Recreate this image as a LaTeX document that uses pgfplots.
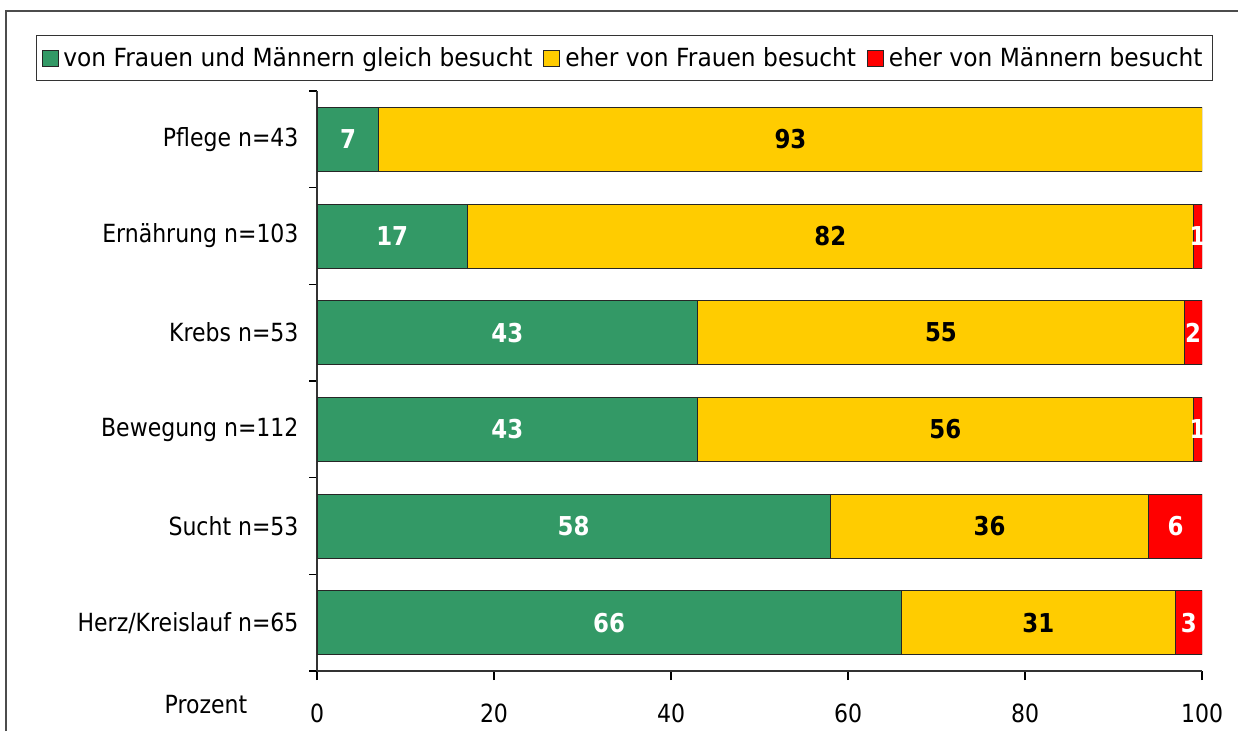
\documentclass[border=0pt]{standalone}
\usepackage{pgfplots}
\pgfplotsset{compat=1.18}
\usepackage{fontspec}
\setmainfont{DejaVu Sans}[FakeStretch=0.88]
\newfontfamily\legfont{DejaVu Sans}[FakeStretch=0.934]
\definecolor{cgreen}{RGB}{51,153,102}
\definecolor{cyellow}{RGB}{255,204,0}
\definecolor{cred}{RGB}{255,0,0}
\begin{document}
\begin{tikzpicture}[font=\fontsize{25pt}{30pt}\selectfont]
\useasboundingbox (0,0) rectangle (1238pt,-731pt);
\draw[line width=1.5pt, black!70] (6pt,-731pt) -- (6pt,-11pt) -- (1238pt,-11pt);
\begin{axis}[
  at={(317pt,-671pt)}, anchor=south west,
  width=885pt, height=580pt, scale only axis,
  xbar stacked, bar width=0.662,
  xmin=0, xmax=100, ymin=-0.5, ymax=5.5,
  axis x line*=bottom, axis y line*=left,
  axis line style={line width=1.2pt, black!80},
  /pgf/number format/assume math mode=true,
  xtick={0,20,...,100},
  ytick={0,...,5},
  yticklabels={Herz/Kreislauf n=65, Sucht n=53, Bewegung n=112, Krebs n=53, Ernährung n=103, Pflege n=43},
  minor ytick={-0.5,0.5,...,5.5},
  tick align=outside,
  major tick length=9pt,
  minor tick length=8pt,
  every major y tick/.append style={draw=none},
  every tick/.append style={line width=1.2pt, black},
  yticklabel style={xshift=-6pt},
  xticklabel style={yshift=-20pt},
  xlabel={Prozent},
  xlabel style={at={(axis description cs:-0.1254,-0.0586)}, anchor=center},
  legend columns=3,
  legend style={at={(axis description cs:-0.3175,1.0966)}, anchor=north west,
    draw=black!80, line width=1pt, inner xsep=5pt, inner ysep=12.5pt,
    font=\legfont\fontsize{25pt}{30pt}\selectfont,
    /tikz/every even column/.append style={column sep=6pt},
    nodes={inner xsep=5pt, inner ysep=0pt}},
  legend image code/.code={\draw[#1, line width=0.8pt] (0pt,-8pt) rectangle (16pt,8pt);},
  nodes near coords,
  point meta=explicit symbolic,
]
\addplot[fill=cgreen, draw=black!85, line width=1pt,
  every node near coord/.append style={anchor=center, white, font=\fontsize{26pt}{30pt}\bfseries\selectfont}]
  coordinates {(66,0) [66] (58,1) [58] (43,2) [43] (43,3) [43] (17,4) [17] (7,5) [7]};
\addplot[fill=cyellow, draw=black!85, line width=1pt,
  every node near coord/.append style={anchor=center, black, font=\fontsize{26pt}{30pt}\bfseries\selectfont}]
  coordinates {(31,0) [31] (36,1) [36] (56,2) [56] (55,3) [55] (82,4) [82] (93,5) [93]};
\addplot[fill=cred, draw=black!85, line width=1pt,
  every node near coord/.append style={anchor=center, white, font=\fontsize{26pt}{30pt}\bfseries\selectfont}]
  coordinates {(3,0) [3] (6,1) [6] (1,2) [1] (2,3) [2] (1,4) [1] (0,5) []};
\legend{von Frauen und Männern gleich besucht, eher von Frauen besucht, eher von Männern besucht}
\end{axis}
\end{tikzpicture}
\end{document}
